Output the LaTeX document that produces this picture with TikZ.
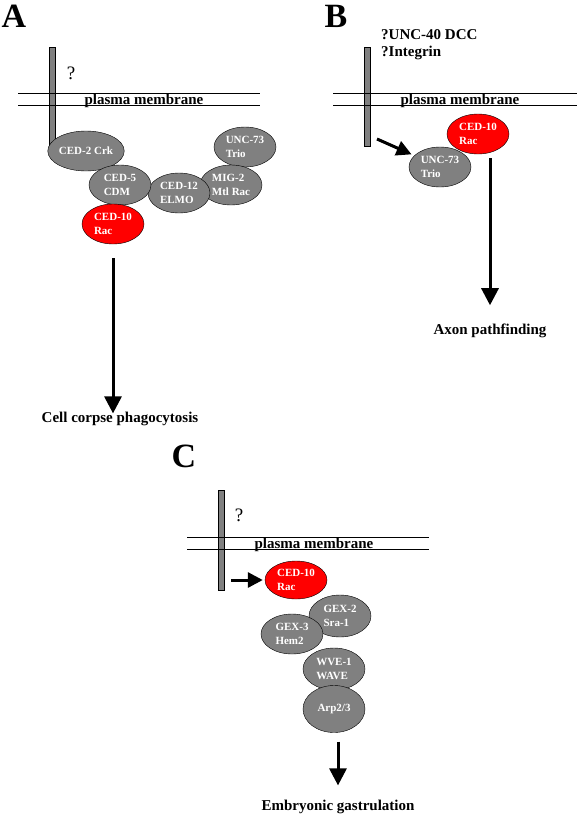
\documentclass[tikz,border=0pt]{standalone}
\usepackage{fontspec}
\setmainfont{Liberation Serif}
\usetikzlibrary{shapes.geometric, arrows.meta, positioning}
\definecolor{protgray}{HTML}{808080}
\definecolor{racred}{HTML}{FF0000}
\tikzstyle{protein} = [ellipse, draw=black, fill=protgray, minimum width=62pt, minimum height=40pt, inner sep=0pt, text=white, align=left, font=\fontsize{11}{13.5}\selectfont\bfseries]
\tikzstyle{rac} = [protein, fill=racred]
\tikzstyle{receptor} = [rectangle, draw=black, fill=protgray, minimum width=6pt, minimum height=99pt, inner sep=0pt]
\tikzstyle{membrane} = [line width=0.9pt]
\tikzstyle{boldtext} = [font=\fontsize{15}{17}\selectfont\bfseries, inner sep=0pt, align=left]
\tikzstyle{panel} = [font=\fontsize{34}{36}\selectfont\bfseries, inner sep=0pt]
\tikzstyle{query} = [font=\fontsize{19}{20}\selectfont, inner sep=0pt]
\tikzstyle{bigarrow} = [line width=3pt, -{Triangle[width=17pt,length=17pt]}]
\tikzstyle{smallarrow} = [line width=3pt, -{Triangle[width=15pt,length=15pt]}]

\begin{document}
\begin{tikzpicture}[x=1pt, y=-1pt]
\useasboundingbox (0,0) rectangle (580,817);

% A: phagocytosis
\node (labA) [panel] at (14,16) {A};
\node (barA) [receptor] at (52,96.5) {};
\node (qA) [query] at (71,73) {?};
\draw [membrane] (18,93) -- (260,93);
\draw [membrane] (18,105) -- (260,105);
\node (pmA) [boldtext, anchor=base] at (144,104) {plasma membrane};
\node (trioA) [protein] at (245,147) {UNC-73\\Trio};
\node (mtl) [protein] at (231,185) {MIG-2\\Mtl Rac};
\node (elmo) [protein] at (179,193) {CED-12\\ELMO};
\node (crk) [protein] at (86,151) {CED-2 Crk};
\node (cdm) [protein] at (120,185) {CED-5\\CDM};
\node (racA) [rac] at (113,224) {CED-10\\Rac};
\node (outA) [boldtext, anchor=base] at (120,422) {Cell corpse phagocytosis};
\draw [bigarrow, shorten <=14pt, shorten >=-2pt] (racA.south) -- (racA.south |- outA.north);

% B: axon pathfinding
\node (labB) [panel] at (336,16) {B};
\node (barB) [receptor] at (367.5,96.5) {};
\node (recB) [boldtext, anchor=base west] at (381,56) {?UNC-40 DCC\\?Integrin};
\draw [membrane] (333,93) -- (577,93);
\draw [membrane] (333,105) -- (577,105);
\node (pmB) [boldtext, anchor=base] at (460,104) {plasma membrane};
\node (racB) [rac] at (478,134) {CED-10\\Rac};
\node (trioB) [protein] at (440,167) {UNC-73\\Trio};
\coordinate (sigB) at (377,139);
\draw [smallarrow, shorten >=3pt] (sigB) -- (trioB);
\node (outB) [boldtext, anchor=base] at (490,334) {Axon pathfinding};
\draw [bigarrow, shorten <=4pt, shorten >=18pt] (outB.north |- racB.south) -- (outB.north);

% C: gastrulation
\node (labC) [panel] at (184,456) {C};
\node (barC) [receptor, minimum height=100pt] at (221.5,540) {};
\node (qC) [query] at (239,515) {?};
\draw [membrane] (187,537) -- (429,537);
\draw [membrane] (187,549) -- (429,549);
\node (pmC) [boldtext, anchor=base] at (314,548) {plasma membrane};
\node (racC) [rac, minimum height=38pt] at (296,580) {CED-10\\Rac};
\node (gex2) [protein, minimum height=42pt] at (340,616) {GEX-2\\Sra-1};
\node (gex3) [protein] at (292,634) {GEX-3\\Hem2};
\node (wave) [protein, minimum height=42pt] at (334,669) {WVE-1\\WAVE};
\node (arp) [protein, minimum height=47pt] at (334,709) {Arp2/3};
\coordinate (sigC) at (231,580);
\draw [smallarrow, shorten >=2pt] (sigC) -- (racC.west);
\node (outC) [boldtext, anchor=base] at (338,810) {Embryonic gastrulation};
\draw [bigarrow, shorten <=9pt, shorten >=14pt] (outC.north |- arp.south) -- (outC.north);

\end{tikzpicture}
\end{document}
